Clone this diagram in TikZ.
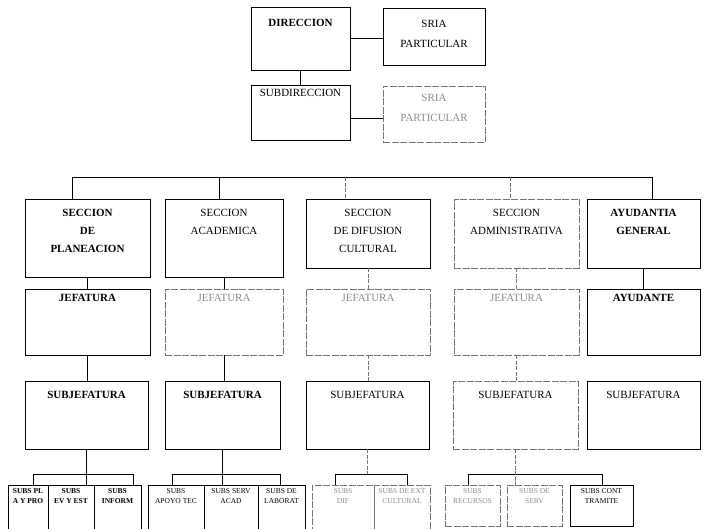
\documentclass[tikz,border=0pt]{standalone}
\usepackage{fontspec}
\setmainfont{Liberation Serif}
\usetikzlibrary{fit,positioning}
\tikzset{
  box/.style={draw=black, line width=0.9pt, inner sep=0pt},
  pale/.style={draw=black!55, line width=0.7pt, dash pattern=on 7pt off 1.5pt, inner sep=0pt},
  txt/.style={font=\fontsize{11}{18}\selectfont, align=center, inner sep=0pt, anchor=north},
  btxt/.style={txt, font=\fontsize{11}{18}\selectfont\bfseries},
  ftxt/.style={txt, text=black!45},
  small/.style={font=\fontsize{7.5}{10}\selectfont, align=center, inner sep=0pt, anchor=north},
  bsmall/.style={small, font=\fontsize{7.5}{10}\selectfont\bfseries},
  fsmall/.style={small, text=black!45},
  link/.style={draw=black, line width=0.8pt},
  palelink/.style={draw=black!55, line width=0.6pt, dash pattern=on 4pt off 1.5pt},
}
\begin{document}
\begin{tikzpicture}[x=1pt,y=-1pt]
  \fill[white] (0,0) rectangle (704,528);
  \useasboundingbox (0,0) rectangle (704,528);

  % top
  \node[box, fit={(251,7) (350,70)}] (dir) {};
  \node[btxt, below=12pt of dir.north] (dirt) {DIRECCION};
  \node[box, fit={(383,8) (485,65)}] (sria1) {};
  \node[txt, below=12pt of sria1.north] (sria1t) {SRIA\\[2pt] PARTICULAR};
  \node[box, fit={(251,85) (350,140)}] (subdir) {};
  \node[txt, below=4pt of subdir.north] (subdirt) {SUBDIRECCION};
  \node[pale, fit={(383,86) (485,142)}] (sria2) {};
  \node[ftxt, below=8pt of sria2.north] (sria2t) {SRIA\\[2pt] PARTICULAR};
  \draw[link] (dir.east) -- (dir.east -| sria1.west);
  \draw[link] (dir.south) -- (subdir.north);
  \draw[link] ([yshift=-6pt]subdir.east) -- ([yshift=-6pt]subdir.east -| sria2.west);

  % secciones
  \node[box, fit={(25,199) (150,277)}] (sec1) {};
  \node[btxt, below=10pt of sec1.north] (sec1t) {SECCION\\ DE\\ PLANEACION};
  \node[box, fit={(165,199) (283,277)}] (sec2) {};
  \node[txt, below=10pt of sec2.north] (sec2t) {SECCION\\ ACADEMICA};
  \node[box, fit={(306,199) (430,268)}] (sec3) {};
  \node[txt, below=10pt of sec3.north] (sec3t) {SECCION\\ DE DIFUSION\\ CULTURAL};
  \node[pale, fit={(454,199) (579,268)}] (sec4) {};
  \node[txt, below=10pt of sec4.north] (sec4t) {SECCION\\ ADMINISTRATIVA};
  \node[box, fit={(587,199) (700,268)}] (sec5) {};
  \node[btxt, below=10pt of sec5.north] (sec5t) {AYUDANTIA\\ GENERAL};

  \foreach \n/\x in {1/72,2/219,3/345,4/510,5/652}
    \coordinate (b\n) at (\x,177);
  \draw[link] (b1) -- (b5);
  \foreach \n in {1,2,5}
    \draw[link] (b\n) -- (b\n |- sec\n.north);
  \foreach \n in {3,4}
    \draw[palelink] (b\n) -- (b\n |- sec\n.north);

  % jefaturas
  \node[box, fit={(25,289) (150,355)}] (jef1) {};
  \node[btxt, below=5pt of jef1.north] (jef1t) {JEFATURA};
  \node[pale, fit={(165,289) (283,355)}] (jef2) {};
  \node[ftxt, below=5pt of jef2.north] (jef2t) {JEFATURA};
  \node[pale, fit={(306,289) (430,355)}] (jef3) {};
  \node[ftxt, below=5pt of jef3.north] (jef3t) {JEFATURA};
  \node[pale, fit={(454,289) (579,355)}] (jef4) {};
  \node[ftxt, below=5pt of jef4.north] (jef4t) {JEFATURA};
  \node[box, fit={(587,289) (700,355)}] (jef5) {};
  \node[btxt, below=5pt of jef5.north] (jef5t) {AYUDANTE};
  \foreach \n in {1,2,5}
    \draw[link] (sec\n.south) -- (jef\n.north);
  \foreach \n in {3,4}
    \draw[palelink] (sec\n.south) -- (jef\n.north);

  % subjefaturas
  \node[box, fit={(25,381) (148,449)}] (subj1) {};
  \node[btxt, below=10pt of subj1.north] (subj1t) {SUBJEFATURA};
  \node[box, fit={(165,381) (280,449)}] (subj2) {};
  \node[btxt, below=10pt of subj2.north] (subj2t) {SUBJEFATURA};
  \node[box, fit={(306,381) (429,449)}] (subj3) {};
  \node[txt, below=10pt of subj3.north] (subj3t) {SUBJEFATURA};
  \node[pale, fit={(453,381) (578,449)}] (subj4) {};
  \node[txt, below=10pt of subj4.north] (subj4t) {SUBJEFATURA};
  \node[box, fit={(587,381) (700,449)}] (subj5) {};
  \node[txt, below=10pt of subj5.north] (subj5t) {SUBJEFATURA};
  \foreach \n in {1,2}
    \draw[link] (jef\n.south) -- (jef\n.south |- subj\n.north);
  \foreach \n in {3,4}
    \draw[palelink] (jef\n.south) -- (jef\n.south |- subj\n.north);

  % subs
  \node[box, fit={(8,485) (48,532)}] (s11) {};
  \node[bsmall, below=4pt of s11.north] (s11t) {SUBS PL\\ A Y PRO};
  \node[box, fit={(48,485) (94,532)}] (s12) {};
  \node[bsmall, below=4pt of s12.north] (s12t) {SUBS\\ EV Y EST};
  \node[box, fit={(94,485) (141,532)}] (s13) {};
  \node[bsmall, below=4pt of s13.north] (s13t) {SUBS\\ INFORM};
  \node[box, fit={(148,485) (204,532)}] (s21) {};
  \node[small, below=4pt of s21.north] (s21t) {SUBS\\ APOYO TEC};
  \node[box, fit={(204,485) (258,532)}] (s22) {};
  \node[small, below=4pt of s22.north] (s22t) {SUBS SERV\\ ACAD};
  \node[box, fit={(258,485) (305,532)}] (s23) {};
  \node[small, below=4pt of s23.north] (s23t) {SUBS DE\\ LABORAT};
  \node[pale, fit={(312,485) (374,532)}] (s31) {};
  \node[fsmall, below=4pt of s31.north] (s31t) {SUBS\\ DIF};
  \node[pale, fit={(374,485) (430,532)}] (s32) {};
  \node[fsmall, below=4pt of s32.north] (s32t) {SUBS DE EXT\\ CULTURAL};
  \node[pale, fit={(445,485) (500,526)}] (s41) {};
  \node[fsmall, below=4pt of s41.north] (s41t) {SUBS\\ RECURSOS};
  \node[pale, fit={(507,485) (562,526)}] (s42) {};
  \node[fsmall, below=4pt of s42.north] (s42t) {SUBS DE\\ SERV};
  \node[box, fit={(570,485) (633,526)}] (s43) {};
  \node[small, below=4pt of s43.north] (s43t) {SUBS CONT\\ TRAMITE};

  \coordinate (g1a) at (33,474);  \coordinate (g1b) at (133,474);
  \coordinate (g2a) at (172,474); \coordinate (g2b) at (280,474);
  \coordinate (g3a) at (335,474); \coordinate (g3b) at (407,474);
  \coordinate (g4a) at (468,474); \coordinate (g4b) at (602,474);
  \draw[link] (g1a |- s11.north) -- (g1a) -- (g1b) -- (g1b |- s11.north);
  \draw[link] (subj1.south) -- (subj1.south |- s12.north);
  \draw[link] (g2a |- s21.north) -- (g2a) -- (g2b) -- (g2b |- s21.north);
  \draw[link] (subj2.south) -- (subj2.south |- s22.north);
  \draw[link] (g3a |- s31.north) -- (g3a) -- (g3b) -- (g3b |- s31.north);
  \draw[palelink] (subj3.south) -- (subj3.south |- g3a);
  \draw[link] (g4a |- s41.north) -- (g4a) -- (g4b) -- (g4b |- s41.north);
  \draw[palelink] (subj4.south) -- (subj4.south |- s42.north);
\end{tikzpicture}
\end{document}
